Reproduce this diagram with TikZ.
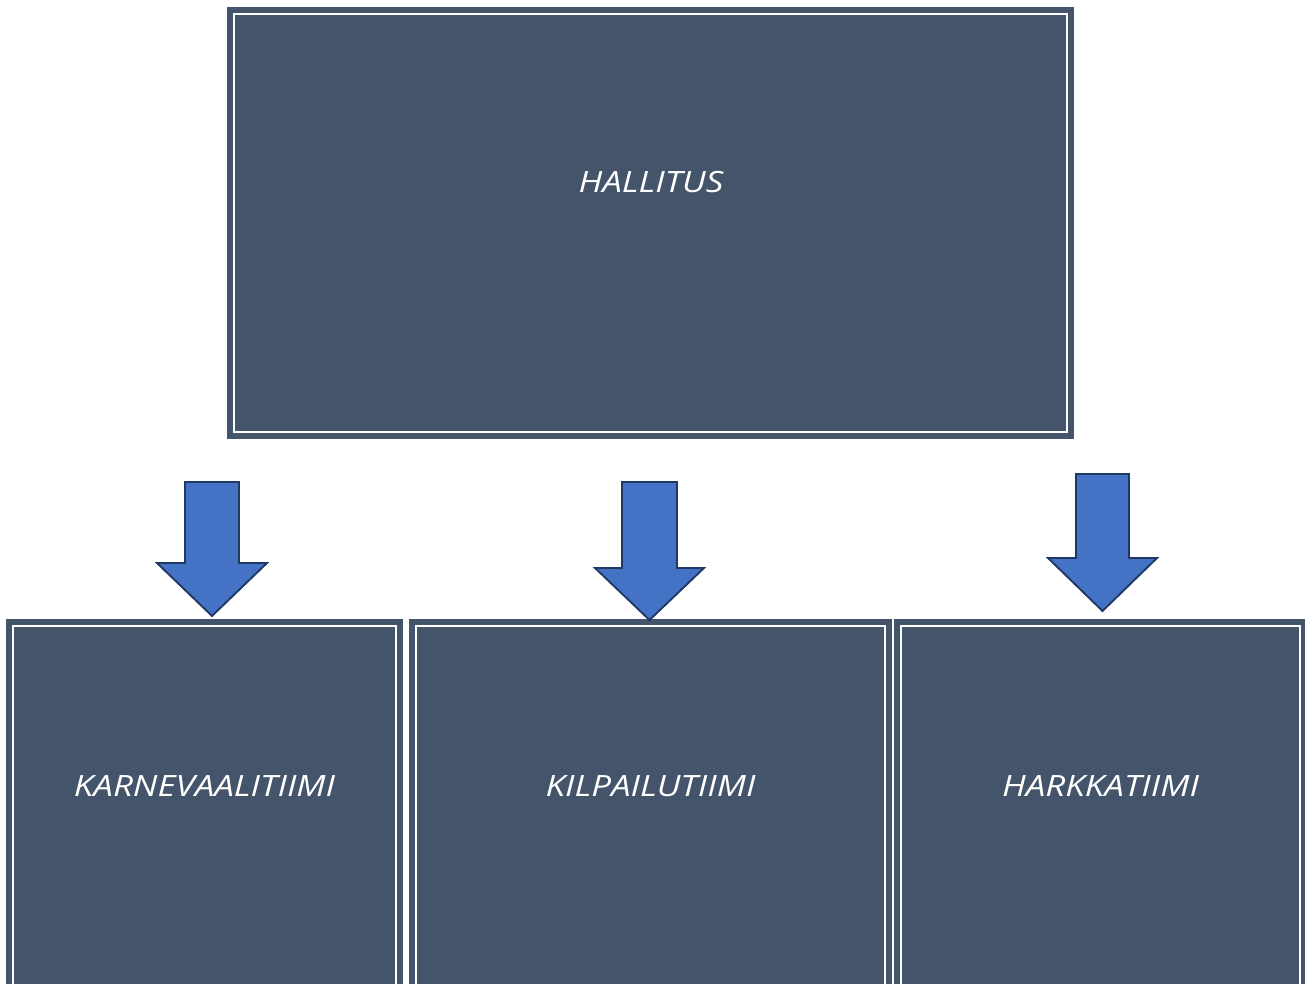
\documentclass[tikz,border=0pt]{standalone}
\usepackage{fontspec}
\setmainfont{Open Sans}[FakeStretch=1.19]
\definecolor{slate}{HTML}{44546A}
\definecolor{arrowfill}{HTML}{4472C4}
\definecolor{arrowline}{HTML}{1F3864}
\tikzset{
  boxfill/.style={fill=slate},
  whiteline/.style={draw=white, line width=1.5pt},
  boxlabel/.style={text=white, font=\fontsize{22}{26}\selectfont\itshape, inner sep=0pt},
  blockarrow/.style={fill=arrowfill, draw=arrowline, line width=1.4pt, line join=miter}
}
\begin{document}
\begin{tikzpicture}[x=0.75pt, y=-0.75pt]
\useasboundingbox (0,0) rectangle (1305,984);
\clip (0,0) rectangle (1305,984);
% top box
\path[boxfill] (227,7) rectangle (1074,439);
\draw[whiteline] (234,14) rectangle (1067,432);
\node[boxlabel] (hallitus) at (651,182) {HALLITUS};
% bottom boxes
\path[boxfill] (6,619) rectangle (403,1000);
\draw[whiteline] (13,626) rectangle (396,1010);
\node[boxlabel] (karneval) at (204.5,786) {KARNEVAALITIIMI};
\path[boxfill] (409,619) rectangle (892,1000);
\draw[whiteline] (416,626) rectangle (885,1010);
\node[boxlabel] (kilpailu) at (650.5,786) {KILPAILUTIIMI};
\path[boxfill] (894,619) rectangle (1307,1000);
\draw[whiteline] (901,626) rectangle (1300,1010);
\node[boxlabel] (harkka) at (1100.5,786) {HARKKATIIMI};
% block arrows
\draw[blockarrow] (185,482) -- (239,482) -- (239,563) -- (267,563) -- (212,616) -- (157,563) -- (185,563) -- cycle;
\draw[blockarrow] (622,482) -- (677,482) -- (677,568) -- (704,568) -- (649.5,620) -- (595,568) -- (622,568) -- cycle;
\draw[blockarrow] (1076,474) -- (1129,474) -- (1129,558) -- (1157,558) -- (1102.5,611) -- (1048,558) -- (1076,558) -- cycle;
\end{tikzpicture}
\end{document}
